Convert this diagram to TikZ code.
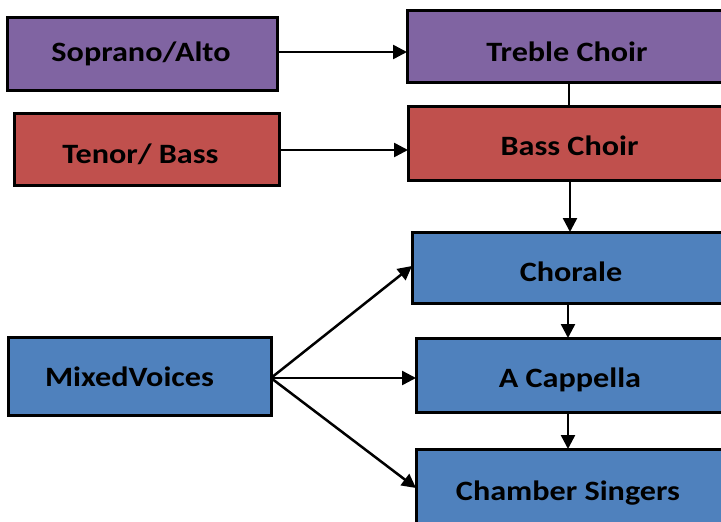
\documentclass[tikz,border=0pt]{standalone}
\usepackage{fontspec}
\setmainfont[FakeStretch=1.15]{Carlito}
\usetikzlibrary{arrows.meta,calc}
\definecolor{cpurple}{HTML}{8064A2}
\definecolor{cred}{HTML}{C0504D}
\definecolor{cblue}{HTML}{4F81BD}
\begin{document}
\begin{tikzpicture}[x=1pt,y=-1pt,
  box/.style={draw=black,line width=3pt,rectangle,inner sep=0pt,outer sep=0pt},
  lbl/.style={font=\fontsize{28}{30}\selectfont\bfseries,inner sep=0pt},
  conn/.style={line width=2.5pt,-{Triangle[length=14pt,width=14pt]}},
  plain/.style={line width=2pt}]
\useasboundingbox (0,0) rectangle (721,522);
\clip (0,0) rectangle (721,522);
\node[box,fill=cpurple,minimum width=270pt,minimum height=73pt] (sa) at (142,53.5) {};
\node[lbl] (sat) at (141,54) {Soprano/Alto};
\node[box,fill=cpurple,minimum width=322pt,minimum height=72pt] (tc) at (568,46) {};
\node[lbl] (tct) at (567,52) {Treble Choir};
\node[box,fill=cred,minimum width=265pt,minimum height=72pt] (tb) at (146.5,149) {};
\node[lbl] (tbt) at (140.5,154) {Tenor/ Bass};
\node[box,fill=cred,minimum width=322pt,minimum height=74pt] (bc) at (569,143) {};
\node[lbl] (bct) at (569.5,146) {Bass Choir};
\node[box,fill=cblue,minimum width=318pt,minimum height=71pt] (ch) at (571,267.5) {};
\node[lbl] (cht) at (571,272) {Chorale};
\node[box,fill=cblue,minimum width=314pt,minimum height=74pt] (ac) at (573,375) {};
\node[lbl] (act) at (570,380) {A Cappella};
\node[box,fill=cblue,minimum width=314pt,minimum height=84pt] (cs) at (573,491) {};
\node[lbl] (cst) at (568,493) {Chamber Singers};
\node[box,fill=cblue,minimum width=263pt,minimum height=78pt] (mv) at (139.5,376) {};
\node[lbl] (mvt) at (129.5,377) {MixedVoices};
\draw[conn] (sa.east |- 0,52) -- (tc.west |- 0,52);
\draw[conn] (tb.east |- 0,150) -- (bc.west |- 0,150);
\draw[plain] (tc.south -| 569,0) -- (bc.north -| 569,0);
\draw[conn] (bc.south -| 570,0) -- (ch.north -| 570,0);
\draw[conn] (ch.south -| 568,0) -- (ac.north -| 568,0);
\draw[conn] (ac.south -| 568,0) -- (cs.north -| 568,0);
\coordinate (mvo) at ($(mv.east)+(0,2)$);
\draw[conn] (mvo) -- (ch.west |- 0,266);
\draw[conn] (mvo) -- (ac.west |- 0,378);
\draw[conn] (mvo) -- (cs.west |- 0,488);
\end{tikzpicture}
\end{document}
